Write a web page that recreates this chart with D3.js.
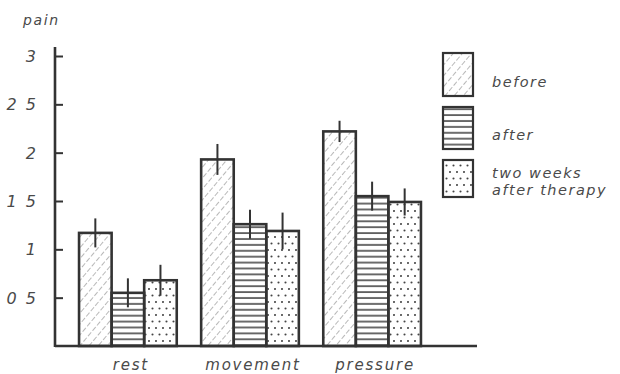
<!DOCTYPE html>
<html>
<head>
<meta charset="utf-8">
<script src="https://cdn.jsdelivr.net/npm/d3@7"></script>
<style>
  html, body { margin: 0; padding: 0; background: #fff; }
  svg { display: block; }
  text { font-family: "DejaVu Sans", sans-serif; font-style: italic; fill: #4a4a4a; }
</style>
</head>
<body>
<svg id="chart" width="620" height="374"></svg>
<script>
// Pain scores per condition, with the spread shown by each vertical error line
const categories = ["rest", "movement", "pressure"];
const series = ["before", "after", "two weeks after therapy"];
const legendLines = [["before"], ["after"], ["two weeks", "after therapy"]];
const beforeValues = [1.17, 1.93, 2.22];
const afterValues = [0.55, 1.26, 1.55];
const twoWeeksValues = [0.68, 1.19, 1.49];
const beforeErrors = [0.15, 0.16, 0.11];
const afterErrors = [0.15, 0.15, 0.15];
const twoWeeksErrors = [0.16, 0.19, 0.14];
const tickValues = [0.5, 1, 1.5, 2, 2.5, 3];
const tickLabels = ["0 5", "1", "1 5", "2", "2 5", "3"];
const yLabel = "pain";

const valuesBySeries = [beforeValues, afterValues, twoWeeksValues];
const errorsBySeries = [beforeErrors, afterErrors, twoWeeksErrors];
const rows = [];
categories.forEach((c, ci) => {
  series.forEach((s, si) => {
    rows.push({ category: c, series: s, si, value: valuesBySeries[si][ci], err: errorsBySeries[si][ci] });
  });
});

const svg = d3.select("#chart");
const axisX = 55;
const baseY = 346;
const ink = "#333";

const x = d3.scaleBand().domain(categories).range([axisX, 445]).paddingInner(0.2).paddingOuter(0.197);
const xInner = d3.scaleBand().domain(series).range([0, x.bandwidth()]).padding(0);
const y = d3.scaleLinear().domain([0, 3]).range([baseY, 56]);

// Fill patterns: light diagonal hatch, horizontal rules, dot stipple
const defs = svg.append("defs");
const diag = defs.append("pattern").attr("id", "p0").attr("patternUnits", "userSpaceOnUse")
  .attr("width", 7).attr("height", 7).attr("patternTransform", "rotate(40)");
diag.append("line").attr("x1", 3.5).attr("x2", 3.5).attr("y1", 0).attr("y2", 7)
  .attr("stroke", "#b8b8b8").attr("stroke-width", 1).attr("stroke-dasharray", "5 2");
const horiz = defs.append("pattern").attr("id", "p1").attr("patternUnits", "userSpaceOnUse")
  .attr("width", 8).attr("height", 5.9);
horiz.append("line").attr("x1", 0).attr("x2", 8).attr("y1", 3).attr("y2", 3)
  .attr("stroke", "#3a3a3a").attr("stroke-width", 1.5);
const dots = defs.append("pattern").attr("id", "p2").attr("patternUnits", "userSpaceOnUse")
  .attr("width", 7).attr("height", 13);
[[2, 3], [5.5, 9.5]].forEach(([cx, cy]) =>
  dots.append("circle").attr("cx", cx).attr("cy", cy).attr("r", 1.05).attr("fill", "#444"));

// Bars
const bars = svg.append("g");
bars.selectAll("rect").data(rows).join("rect")
  .attr("x", d => x(d.category) + xInner(d.series))
  .attr("y", d => y(d.value))
  .attr("width", xInner.bandwidth())
  .attr("height", d => y(0) - y(d.value))
  .attr("fill", d => `url(#p${d.si})`)
  .attr("stroke", ink).attr("stroke-width", 2.6);

// Error lines (no caps)
svg.append("g").selectAll("line").data(rows).join("line")
  .attr("x1", d => x(d.category) + xInner(d.series) + xInner.bandwidth() / 2)
  .attr("x2", d => x(d.category) + xInner(d.series) + xInner.bandwidth() / 2)
  .attr("y1", d => y(d.value + d.err))
  .attr("y2", d => y(d.value - d.err))
  .attr("stroke", ink).attr("stroke-width", 2);

// Y axis: ticks point inwards, labels set by hand
const yAxis = d3.axisRight(y).tickValues(tickValues).tickSize(8)
  .tickFormat((d, i) => tickLabels[i]);
const yG = svg.append("g").attr("transform", `translate(${axisX},0)`).call(yAxis);
yG.select(".domain").remove();
yG.selectAll(".tick line").attr("stroke", ink).attr("stroke-width", 2);
yG.selectAll(".tick text").attr("x", -17).attr("text-anchor", "end")
  .attr("dy", "0.35em").style("font-size", "16px").style("letter-spacing", "2px").attr("fill", "#555");
svg.append("line").attr("x1", axisX).attr("x2", axisX).attr("y1", y(3) - 9).attr("y2", baseY + 1)
  .attr("stroke", ink).attr("stroke-width", 2.6);

// Baseline and category labels
svg.append("line").attr("x1", axisX).attr("x2", 477).attr("y1", baseY).attr("y2", baseY)
  .attr("stroke", ink).attr("stroke-width", 2.6);
svg.append("g").selectAll("text").data(categories).join("text")
  .attr("x", d => x(d) + x.bandwidth() / 2 + 3)
  .attr("y", 370)
  .attr("text-anchor", "middle")
  .style("font-size", "15px").style("letter-spacing", "1.8px")
  .text(d => d);

svg.append("text").attr("x", 23).attr("y", 25).style("font-size", "14px")
  .style("letter-spacing", "1.6px").attr("fill", "#666").text(yLabel);

// Legend
const legendBoxes = [{ top: 53, h: 43 }, { top: 107, h: 42 }, { top: 160, h: 37 }];
const legend = svg.append("g");
series.forEach((s, i) => {
  const b = legendBoxes[i];
  legend.append("rect").attr("x", 443).attr("y", b.top).attr("width", 30).attr("height", b.h)
    .attr("fill", `url(#p${i})`).attr("stroke", ink).attr("stroke-width", 2.2);
  const lines = legendLines[i];
  const t = legend.append("text").style("font-size", "14.5px").style("letter-spacing", "1.5px");
  lines.forEach((ln, k) => {
    t.append("tspan").attr("x", 492)
      .attr("y", lines.length === 1 ? [87, 140][i] : 178 + k * 17)
      .text(ln);
  });
});
</script>
</body>
</html>
